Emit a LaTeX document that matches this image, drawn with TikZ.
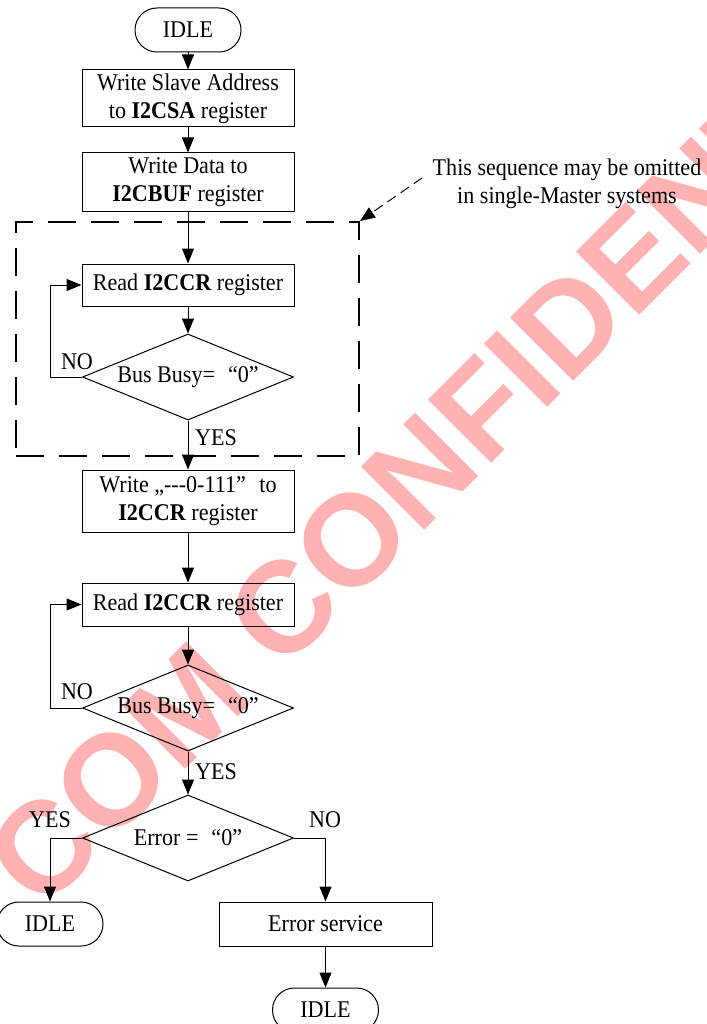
\documentclass[tikz,border=0pt]{standalone}
\usepackage{fontspec}
\setmainfont{Liberation Serif}[FakeStretch=0.92]
\newfontfamily\wmfont{Liberation Sans}
\usetikzlibrary{shapes.geometric,arrows.meta}
\definecolor{wmcol}{RGB}{255,178,178}
\begin{document}
\begin{tikzpicture}[x=1pt,y=-1pt,
  font=\fontsize{24}{28}\selectfont,
  box/.style={draw, line width=1pt, rectangle, minimum width=212pt, align=center, inner sep=2pt},
  term/.style={draw, line width=1pt, rectangle, rounded corners=21.9pt, minimum width=106pt, minimum height=44pt, inner sep=2pt},
  dec/.style={diamond, draw, line width=1pt, aspect=2.45, minimum width=211pt, minimum height=86pt, inner sep=0pt},
  arr/.style={-{Triangle[length=15pt,width=12pt]}, line width=1pt},
  lbl/.style={inner sep=0pt},
  grpbox/.style={draw, line width=2pt, dash pattern=on 28pt off 15pt, minimum width=343pt, minimum height=234pt, inner sep=0pt},
  callout/.style={line width=1pt, dash pattern=on 10pt off 6pt, -{Triangle[length=15pt,width=12pt]}},
  wmtext/.style={text=wmcol, font=\wmfont\bfseries\fontsize{130}{130}\selectfont, inner sep=0pt}
]
\useasboundingbox (0,0) rectangle (706,1024);
\begin{scope}
\clip (0,0) rectangle (706,1024);
\node[wmtext, rotate=45, anchor=base west] (wm) at (41,914) {COM CONFIDENTIAL};
\end{scope}

% group box
\node[grpbox] (grp) at (187.5,339) {};

% nodes
\node[term] (idle1) at (188,30) {IDLE};
\node[box, minimum height=57pt] (b1) at (188,98.5) {Write Slave Address\\to \textbf{I2CSA} register};
\node[box, minimum height=59pt] (b2) at (188,182.5) {Write Data to\\\textbf{I2CBUF} register};
\node[box, minimum height=42pt] (b3) at (188,285) {Read \textbf{I2CCR} register};
\node[dec] (d1) at (188,377) {Bus Busy=\hspace{13pt}“0”};
\node[box, minimum height=62pt] (b4) at (188,501) {Write „-{}-{}-0-111”\hspace{8pt} to\\\textbf{I2CCR} register};
\node[box, minimum height=43pt] (b5) at (188,604.5) {Read \textbf{I2CCR} register};
\node[dec] (d2) at (188,708) {Bus Busy=\hspace{13pt}“0”};
\node[dec] (d3) at (188,838) {Error =\hspace{13pt}“0”};
\node[term] (idle2) at (50,924) {IDLE};
\node[box, minimum width=213pt, minimum height=44pt] (err) at (325.5,924) {Error service};
\node[term] (idle3) at (325.5,1010) {IDLE};

% note
\node[lbl, align=center] (note) at (567,184) {This sequence may be omitted\\in single-Master systems};
\coordinate (nstart) at (422,178);
\draw[callout] (nstart) -- (grp.north east);

% connectors
\draw[arr] (idle1) -- (b1);
\draw[arr] (b1) -- (b2);
\draw[arr] (b2) -- (b3);
\draw[arr] (b3) -- (d1);
\draw[arr] (d1.west) -- ++(-32,0) |- (b3.west);
\draw[arr] (d1.south) -- (b4.north);
\draw[arr] (b4) -- (b5);
\draw[arr] (b5) -- (d2);
\draw[arr] (d2.west) -- ++(-32,0) |- (b5.west);
\draw[arr] (d2.south) -- (d3.north);
\draw[arr] (d3.west) -| (idle2.north);
\draw[arr] (d3.east) -| (err.north);
\draw[arr] (err) -- (idle3);

% labels
\node[lbl] (no1) at (77,362) {NO};
\node[lbl] (yes1) at (216,438) {YES};
\node[lbl] (no2) at (77,692) {NO};
\node[lbl] (yes2) at (216,772) {YES};
\node[lbl] (yes3) at (50,820) {YES};
\node[lbl] (no3) at (325,820) {NO};
\end{tikzpicture}
\end{document}
